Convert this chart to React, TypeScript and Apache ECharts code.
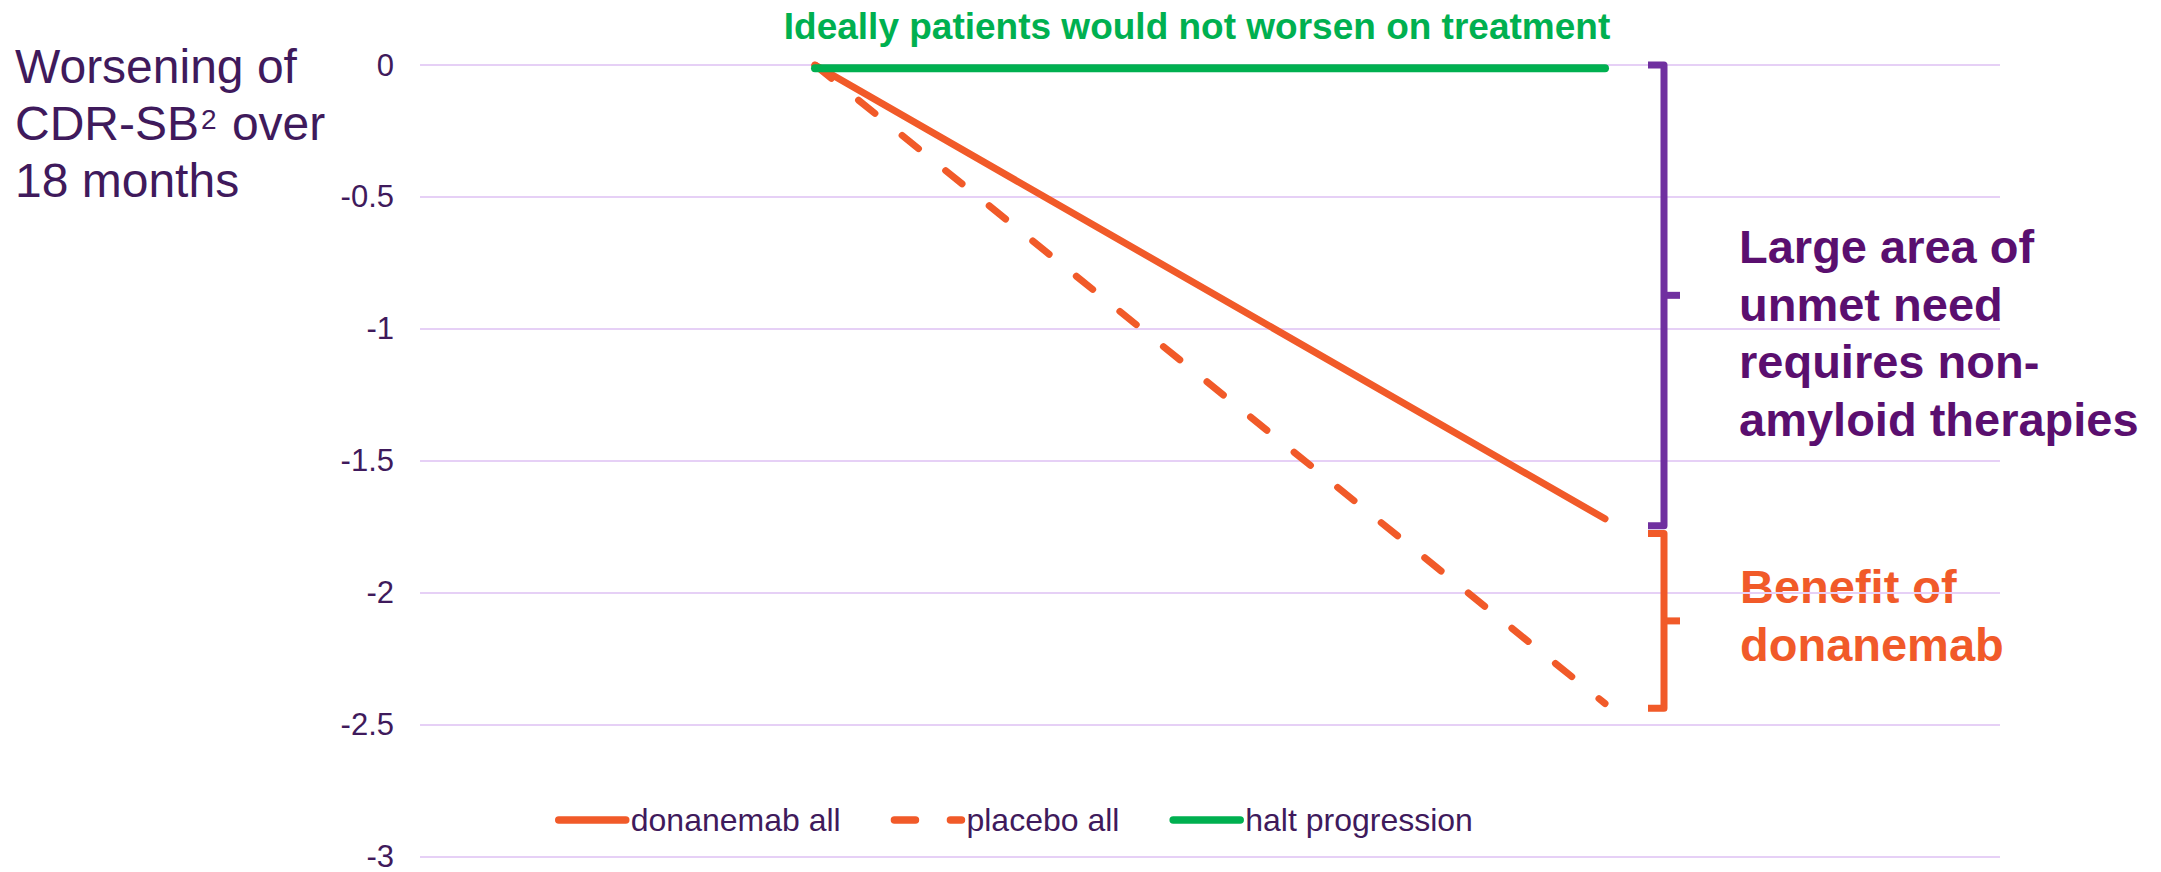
import React, { useEffect, useRef } from 'react';
import * as echarts from 'echarts';

// ---------- data ----------
const categories = ['Baseline', '18 months'];
const donanemabAll = [0, -1.72];
const placeboAll = [0, -2.42];
const haltProgression = [-0.012, -0.012];
const seriesNames = ['donanemab all', 'placebo all', 'halt progression'];
const yMin = -3;
const yMax = 0;
const yInterval = 0.5;
// brackets: [top value, bottom value]
const bracketRanges = [
  [0, -1.746],
  [-1.776, -2.438],
];

const titleText = 'Ideally patients would not worsen on treatment';
const unmetNeedText = 'Large area of\nunmet need\nrequires non-\namyloid therapies';
const benefitText = 'Benefit of\ndonanemab';

// ---------- styles ----------
const FONT = '"Liberation Sans", Arial, Helvetica, sans-serif';
const DARK_PURPLE = '#3f1a5c';
const TEXT_PURPLE = '#5a0f6f';
const BRACKET_PURPLE = '#7030a0';
const ORANGE = '#f15a29';
const GREEN = '#00b050';
const GRID = '#e6d0f6';
const bracketColors = [BRACKET_PURPLE, ORANGE];
const DASH = [21, 35];

export default function App() {
  const ref = useRef<HTMLDivElement>(null);

  useEffect(() => {
    document.body.style.margin = '0';
    document.body.style.overflow = 'hidden';
    if (!ref.current) return;
    const chart = echarts.init(ref.current, null, { renderer: 'svg' });

    const lineBase = {
      type: 'line',
      symbol: 'none',
      showSymbol: false,
      silent: true,
    };

    const option: any = {
      animation: false,
      backgroundColor: '#ffffff',
      textStyle: { fontFamily: FONT },
      grid: { left: 420, right: 161, top: 65, bottom: 12, containLabel: false },
      legend: {
        data: seriesNames,
        left: 550,
        top: 799,
        itemWidth: 67,
        itemHeight: 16,
        itemGap: 50,
        lineStyle: { width: 7.5 },
        itemStyle: { opacity: 0, borderWidth: 0 },
        textStyle: { color: DARK_PURPLE, fontSize: 32, fontFamily: FONT },
        selectedMode: false,
      },
      xAxis: {
        type: 'category',
        data: categories,
        boundaryGap: true,
        axisLine: { show: false },
        axisTick: { show: false },
        axisLabel: { show: false },
        splitLine: { show: false },
      },
      yAxis: {
        type: 'value',
        min: yMin,
        max: yMax,
        interval: yInterval,
        axisLine: { show: false },
        axisTick: { show: false },
        axisLabel: { color: DARK_PURPLE, fontSize: 31, lineHeight: 22, fontFamily: FONT, margin: 26 },
        splitLine: { show: true, lineStyle: { color: GRID, width: 2 } },
      },
      series: [
        {
          ...lineBase,
          name: seriesNames[0],
          data: donanemabAll,
          lineStyle: { color: ORANGE, width: 7, cap: 'round' },
          itemStyle: { color: ORANGE },
          z: 3,
        },
        {
          ...lineBase,
          name: seriesNames[1],
          data: placeboAll,
          lineStyle: { color: ORANGE, width: 7, type: DASH, cap: 'round' },
          itemStyle: { color: ORANGE },
          z: 3,
        },
        {
          ...lineBase,
          name: seriesNames[2],
          data: haltProgression,
          lineStyle: { color: GREEN, width: 8, cap: 'round' },
          itemStyle: { color: GREEN },
          z: 4,
        },
        {
          type: 'custom',
          name: 'brackets',
          silent: true,
          encode: { x: 0, y: [1, 2] },
          data: bracketRanges.map((r) => [1, r[0], r[1]]),
          z: 5,
          renderItem: (params: any, api: any) => {
            const p1 = api.coord([api.value(0), api.value(1)]);
            const p2 = api.coord([api.value(0), api.value(2)]);
            const x = p1[0] + 59;
            const mid = (p1[1] + p2[1]) / 2;
            const color = bracketColors[params.dataIndex];
            const style = { stroke: color, lineWidth: 7, fill: null, lineJoin: 'round', lineCap: 'butt' };
            return {
              type: 'group',
              children: [
                {
                  type: 'polyline',
                  shape: { points: [[x - 16, p1[1]], [x, p1[1]], [x, p2[1]], [x - 16, p2[1]]] },
                  style,
                },
                {
                  type: 'line',
                  shape: { x1: x, y1: mid, x2: x + 16, y2: mid },
                  style,
                },
              ],
            };
          },
        },
      ],
      graphic: [
        {
          type: 'text',
          x: 1197,
          y: 26,
          style: {
            text: titleText,
            fill: GREEN,
            fontSize: 37,
            fontWeight: 'bold',
            fontFamily: FONT,
            align: 'center',
            verticalAlign: 'middle',
          },
        },
        {
          type: 'text',
          x: 15,
          y: 38,
          style: {
            text: 'Worsening of\n{a|CDR-SB}{s|2}{a| over}\n18 months',
            fill: DARK_PURPLE,
            fontSize: 48,
            lineHeight: 57,
            fontFamily: FONT,
            align: 'left',
            verticalAlign: 'top',
            rich: {
              a: { fontSize: 48, lineHeight: 57, fontFamily: FONT, fill: DARK_PURPLE, color: DARK_PURPLE },
              s: { fontSize: 28, fontFamily: FONT, fill: DARK_PURPLE, color: DARK_PURPLE, padding: [0, 2, 8, 2] },
            },
          },
        },
        {
          type: 'text',
          x: 1739,
          y: 218,
          style: {
            text: unmetNeedText,
            fill: TEXT_PURPLE,
            fontSize: 47,
            fontWeight: 'bold',
            lineHeight: 57.5,
            fontFamily: FONT,
            align: 'left',
            verticalAlign: 'top',
          },
        },
        {
          type: 'text',
          x: 1740,
          y: 557,
          style: {
            text: benefitText,
            fill: ORANGE,
            fontSize: 47,
            fontWeight: 'bold',
            lineHeight: 58,
            fontFamily: FONT,
            align: 'left',
            verticalAlign: 'top',
          },
        },
      ],
    };

    chart.setOption(option);
    return () => {
      chart.dispose();
    };
  }, []);

  return <div ref={ref} style={{ width: 2161, height: 872, position: 'absolute', left: 0, top: 0 }} />;
}
